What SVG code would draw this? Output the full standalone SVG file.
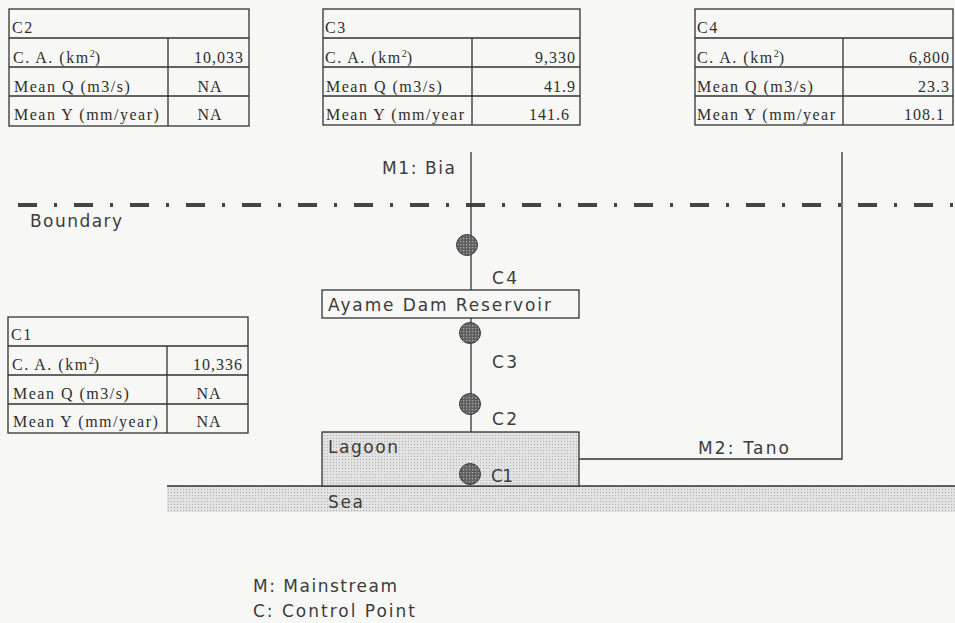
<svg xmlns="http://www.w3.org/2000/svg" width="955" height="623" viewBox="0 0 955 623">
<style>
.tb{fill:none;stroke:#333;stroke-width:1.3}
.tt{font-family:"Liberation Serif","Times New Roman",serif;font-size:16px;fill:#2e2e2e;letter-spacing:1.5px}
.tn{font-family:"Liberation Serif","Times New Roman",serif;font-size:16px;fill:#2e2e2e;letter-spacing:1px}
.sup{font-size:10px;letter-spacing:0}
.st{font-family:"DejaVu Sans","Liberation Sans",Arial,sans-serif;font-size:17px;fill:#3c3c3c}
.ln{fill:none;stroke:#333;stroke-width:1.3}
.cp{fill:url(#dark);stroke:#3a3a3a;stroke-width:1}
</style>
<defs>
<pattern id="stip" width="3" height="3" patternUnits="userSpaceOnUse"><rect width="3" height="3" fill="#e2e2e2"/><rect width="1" height="1" fill="#b0b0b0"/></pattern>
<pattern id="dark" width="3" height="3" patternUnits="userSpaceOnUse"><rect width="3" height="3" fill="#5e5e5e"/><rect x="1" y="1" width="1.3" height="1.3" fill="#aaaaaa"/></pattern>
<clipPath id="clipC3"><rect x="323" y="96" width="149" height="29"/></clipPath>
<clipPath id="clipC4"><rect x="695" y="96" width="148" height="29"/></clipPath>
</defs>
<rect width="955" height="623" fill="#f7f7f5"/>

<g id="table-c2">
<rect class="tb" x="9" y="9" width="240" height="117"/>
<path class="tb" d="M9 38H249M9 67H249M9 96H249M168 38V126"/>
<text class="tt" x="12" y="33">C2</text>
<text class="tt" x="13" y="63">C. A. (km<tspan class="sup" dy="-6">2</tspan><tspan dy="6">)</tspan></text>
<text class="tt" x="14" y="92">Mean Q (m3/s)</text>
<text class="tt" x="14" y="120">Mean Y (mm/year)</text>
<text class="tn" x="244" y="63" text-anchor="end">10,033</text>
<text class="tn" x="210" y="92" text-anchor="middle">NA</text>
<text class="tn" x="210" y="120" text-anchor="middle">NA</text>
</g>

<g id="table-c3">
<rect class="tb" x="323" y="9" width="257" height="116"/>
<path class="tb" d="M323 38H580M323 67H580M323 96H580M472 38V125"/>
<text class="tt" x="325" y="33">C3</text>
<text class="tt" x="325" y="63">C. A. (km<tspan class="sup" dy="-6">2</tspan><tspan dy="6">)</tspan></text>
<text class="tt" x="326" y="92">Mean Q (m3/s)</text>
<text class="tt" x="326" y="120" clip-path="url(#clipC3)">Mean Y (mm/year</text>
<text class="tn" x="576" y="63" text-anchor="end">9,330</text>
<text class="tn" x="576" y="92" text-anchor="end">41.9</text>
<text class="tn" x="570" y="120" text-anchor="end">141.6</text>
</g>

<g id="table-c4">
<rect class="tb" x="695" y="9" width="258" height="116"/>
<path class="tb" d="M695 38H953M695 67H953M695 96H953M843 38V125"/>
<text class="tt" x="697" y="33">C4</text>
<text class="tt" x="697" y="63">C. A. (km<tspan class="sup" dy="-6">2</tspan><tspan dy="6">)</tspan></text>
<text class="tt" x="697" y="92">Mean Q (m3/s)</text>
<text class="tt" x="697" y="120" clip-path="url(#clipC4)">Mean Y (mm/year</text>
<text class="tn" x="950" y="63" text-anchor="end">6,800</text>
<text class="tn" x="950" y="92" text-anchor="end">23.3</text>
<text class="tn" x="945" y="120" text-anchor="end">108.1</text>
</g>

<g id="table-c1">
<rect class="tb" x="8" y="317" width="240" height="116"/>
<path class="tb" d="M8 346H248M8 375H248M8 404H248M167 346V433"/>
<text class="tt" x="11" y="340">C1</text>
<text class="tt" x="12" y="370">C. A. (km<tspan class="sup" dy="-6">2</tspan><tspan dy="6">)</tspan></text>
<text class="tt" x="13" y="399">Mean Q (m3/s)</text>
<text class="tt" x="13" y="427">Mean Y (mm/year)</text>
<text class="tn" x="243" y="370" text-anchor="end">10,336</text>
<text class="tn" x="209" y="399" text-anchor="middle">NA</text>
<text class="tn" x="209" y="427" text-anchor="middle">NA</text>
</g>

<g id="boundary">
<line x1="18" y1="205" x2="955" y2="205" stroke="#444" stroke-width="4" stroke-dasharray="19 17 3 17"/>
<text class="st" x="30" y="227" textLength="92" lengthAdjust="spacing">Boundary</text>
</g>

<g id="sea">
<rect x="167" y="486" width="788" height="26" fill="url(#stip)"/>
<line class="ln" x1="167" y1="486" x2="955" y2="486"/>
<text class="st" x="328" y="508" textLength="35" lengthAdjust="spacing">Sea</text>
</g>

<g id="lagoon">
<rect x="322" y="432" width="257" height="54" fill="url(#stip)" stroke="#333" stroke-width="1.3"/>
<text class="st" x="328" y="453" textLength="70" lengthAdjust="spacing">Lagoon</text>
</g>

<g id="connectors">
<line class="ln" x1="471" y1="152" x2="471" y2="432"/>
<polyline class="ln" points="579,459 842,459 842,152"/>
<text class="st" x="382" y="174" textLength="73" lengthAdjust="spacing">M1: Bia</text>
<text class="st" x="698" y="454" textLength="91" lengthAdjust="spacing">M2: Tano</text>
</g>

<g id="reservoir">
<rect x="322" y="290" width="257" height="28" fill="#f7f7f5" stroke="#333" stroke-width="1.3"/>
<text class="st" x="328" y="311" textLength="223" lengthAdjust="spacing">Ayame Dam Reservoir</text>
</g>

<g id="cp-c4">
<circle class="cp" cx="467" cy="245" r="10.5"/>
<text class="st" x="492" y="284" textLength="25" lengthAdjust="spacing">C4</text>
</g>
<g id="cp-c3">
<circle class="cp" cx="470" cy="333" r="10.5"/>
<text class="st" x="492" y="368" textLength="25" lengthAdjust="spacing">C3</text>
</g>
<g id="cp-c2">
<circle class="cp" cx="470" cy="404" r="10.5"/>
<text class="st" x="492" y="425" textLength="25" lengthAdjust="spacing">C2</text>
</g>
<g id="cp-c1">
<circle class="cp" cx="470" cy="474" r="10.5"/>
<text class="st" x="491" y="482" textLength="22" lengthAdjust="spacing">C1</text>
</g>

<g id="legend">
<text class="st" x="253" y="592" textLength="144" lengthAdjust="spacing">M: Mainstream</text>
<text class="st" x="253" y="617" textLength="162" lengthAdjust="spacing">C: Control Point</text>
</g>
</svg>
